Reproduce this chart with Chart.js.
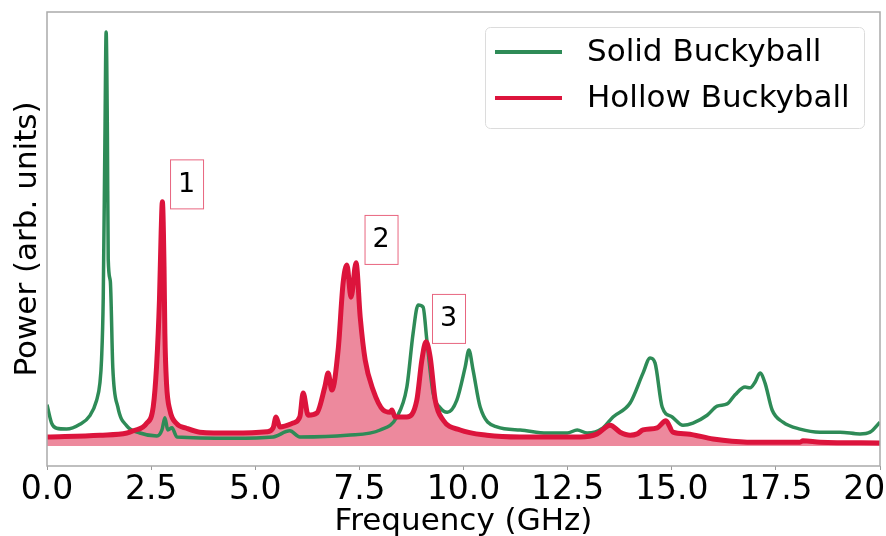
<!DOCTYPE html>
<html>
<head>
<meta charset="utf-8">
<script src="https://cdn.jsdelivr.net/npm/chart.js@4.4.1/dist/chart.umd.min.js"></script>
<style>
  html, body { margin: 0; padding: 0; background: #fff; }
</style>
</head>
<body>
<canvas id="powerSpectrum" width="886" height="536"></canvas>
<script>
// Solid buckyball spectrum (green)
const solidFreq = [
  0, 0.11, 0.23, 0.47, 0.79, 1.03, 1.19, 1.27, 1.31, 1.35, 1.39, 1.42, 1.45, 1.47,
  1.52, 1.58, 1.70, 1.92, 2.23, 2.64, 2.76, 2.83, 2.90, 3.00, 3.12, 4.47, 5.43,
  5.83, 6.07, 7.20, 8.00, 8.40, 8.64, 8.79, 8.91, 9.03, 9.12, 9.27, 9.44, 9.61,
  9.84, 10.04, 10.13, 10.23, 10.40, 10.80, 11.36, 12.00, 12.49, 12.73, 12.97,
  13.35, 13.59, 14.00, 14.31, 14.48, 14.60, 14.77, 15.01, 15.27, 15.51, 15.85,
  16.09, 16.33, 16.52, 16.76, 16.88, 17.00, 17.12, 17.24, 17.41, 17.67, 18.08,
  18.56, 19.04, 19.52, 19.76, 20.00,
];
const solidPower = [
  9.5, 5.3, 4.1, 3.9, 5.0, 7.0, 10.5, 14.5, 20, 34, 70, 95.4, 72, 43,
  38, 18, 9.0, 4.6, 3.0, 2.3, 3.7, 6.5, 3.7, 4.2, 2.1, 1.8, 2.1,
  3.5, 2.1, 2.5, 3.7, 6.7, 13.6, 26.0, 32.5, 32.0, 24.4, 12.2, 8.8, 7.8,
  10.6, 18.2, 22.1, 17.5, 9.0, 4.4, 3.7, 3.0, 3.0, 3.7, 3.0,
  4.2, 6.7, 9.9, 16.8, 20.3, 19.1, 9.0, 6.7, 4.8, 5.3, 7.1,
  9.2, 9.7, 11.8, 13.6, 13.4, 14.7, 16.8, 14.5, 8.3, 5.5, 3.9,
  3.2, 3.2, 2.8, 3.2, 5.5,
];

// Hollow buckyball spectrum (crimson, filled)
const hollowFreq = [
  0, 1.27, 1.92, 2.07, 2.39, 2.55, 2.63, 2.70, 2.74, 2.77, 2.81, 2.83, 2.87, 2.95,
  3.11, 3.35, 3.67, 4.47, 5.28, 5.43, 5.50, 5.59, 5.91, 6.07, 6.15, 6.27, 6.48,
  6.67, 6.75, 6.84, 6.99, 7.11, 7.20, 7.30, 7.42, 7.52, 7.64, 7.83, 8.07, 8.24,
  8.28, 8.36, 8.64, 8.88, 9.00, 9.10, 9.20, 9.32, 9.51, 9.92, 10.56, 11.36, 12.00,
  12.80, 13.21, 13.52, 13.76, 14.00, 14.17, 14.31, 14.65, 14.86, 15.03, 15.37,
  15.99, 16.81, 18.08, 18.15, 18.56, 20.00,
];
const hollowPower = [
  2.1, 2.5, 3.0, 3.5, 5.2, 9.0, 18.3, 33.6, 49, 56.3, 41.3, 26, 14.4, 8.3,
  5.2, 4.1, 3.2, 3.0, 3.3, 4.2, 6.7, 4.4, 5.3, 6.7, 12.2, 7.1, 7.6,
  13.6, 16.8, 12.9, 22.1, 37.6, 41.7, 34.3, 42.2, 29.7, 19.8, 12.9, 8.3, 7.8,
  8.3, 6.7, 6.7, 10.6, 19.8, 24.0, 20.5, 10.6, 6.0, 3.7, 2.5, 2.1, 2.1,
  2.1, 2.8, 4.8, 3.2, 2.5, 2.8, 3.7, 4.2, 5.8, 3.2, 2.8,
  1.6, 0.9, 0.9, 1.2, 0.9, 0.7,
];

// numbered peak labels (anchored in data space)
const peakLabels = ["1", "2", "3"];
const peakLabelFreq = [3.35, 8.02, 9.64];
const peakLabelPower = [60.4, 47.6, 29.4];

const green = "#2e8b57";
const crimson = "#dc143c";
const fontFamily = "'DejaVu Sans', sans-serif";

Chart.defaults.font.family = fontFamily;
Chart.defaults.color = "#000";

function toPoints(xs, ys) {
  return xs.map((x, i) => ({ x: x, y: ys[i] }));
}

// grey box round the plot area
const frame = {
  id: "frame",
  afterDraw(chart) {
    const { ctx, chartArea: a } = chart;
    ctx.save();
    ctx.strokeStyle = "#aaaaaa";
    ctx.lineWidth = 1.5;
    ctx.strokeRect(a.left, a.top, a.right - a.left, a.bottom - a.top);
    ctx.restore();
  },
};

// boxed numbers next to the peaks
const peakBoxes = {
  id: "peakBoxes",
  afterDatasetsDraw(chart) {
    const { ctx, scales } = chart;
    ctx.save();
    ctx.font = "27px " + fontFamily;
    ctx.textAlign = "center";
    ctx.textBaseline = "middle";
    peakLabels.forEach((label, i) => {
      const cx = scales.x.getPixelForValue(peakLabelFreq[i]);
      const cy = scales.y.getPixelForValue(peakLabelPower[i]);
      const w = 33, h = 49;
      ctx.fillStyle = "#fff";
      ctx.fillRect(cx - w / 2, cy - h / 2, w, h);
      ctx.strokeStyle = "rgba(220,20,60,0.65)";
      ctx.lineWidth = 1;
      ctx.strokeRect(cx - w / 2 + 0.5, cy - h / 2 + 0.5, w, h);
      ctx.fillStyle = "#000";
      ctx.fillText(label, cx, cy + 1);
    });
    ctx.restore();
  },
};

// matplotlib style legend inside the upper right corner
const insideLegend = {
  id: "insideLegend",
  afterDraw(chart) {
    const { ctx, chartArea: a } = chart;
    const items = [chart.data.datasets[1], chart.data.datasets[0]];
    const boxW = 379, boxH = 101;
    const x0 = a.right - 16 - boxW, y0 = a.top + 15;
    ctx.save();
    ctx.fillStyle = "rgba(255,255,255,0.8)";
    ctx.strokeStyle = "#dcdcdc";
    ctx.lineWidth = 1;
    ctx.beginPath();
    ctx.roundRect(x0 + 0.5, y0 + 0.5, boxW, boxH, 5);
    ctx.fill();
    ctx.stroke();
    ctx.font = "31px " + fontFamily;
    ctx.textBaseline = "middle";
    items.forEach((ds, i) => {
      const y = y0 + 25 + i * 46;
      ctx.strokeStyle = ds.borderColor;
      ctx.lineWidth = 4;
      ctx.beginPath();
      ctx.moveTo(x0 + 10, y);
      ctx.lineTo(x0 + 77, y);
      ctx.stroke();
      ctx.fillStyle = "#000";
      ctx.fillText(ds.label, x0 + 102, y + 1);
    });
    ctx.restore();
  },
};

new Chart(document.getElementById("powerSpectrum"), {
  type: "line",
  data: {
    datasets: [
      {
        label: "Hollow Buckyball",
        data: toPoints(hollowFreq, hollowPower),
        borderColor: crimson,
        backgroundColor: "rgba(220,20,60,0.5)",
        borderWidth: 5,
        fill: "origin",
        pointRadius: 0,
        cubicInterpolationMode: "monotone",
      },
      {
        label: "Solid Buckyball",
        data: toPoints(solidFreq, solidPower),
        borderColor: green,
        backgroundColor: green,
        borderWidth: 3.5,
        fill: false,
        pointRadius: 0,
        cubicInterpolationMode: "monotone",
      },
    ],
  },
  options: {
    responsive: false,
    animation: false,
    layout: { padding: { top: 12, right: 6, left: 0, bottom: 0 } },
    plugins: {
      legend: { display: false },
      tooltip: { enabled: false },
      filler: { drawTime: "beforeDatasetsDraw" },
    },
    scales: {
      x: {
        type: "linear",
        min: 0,
        max: 20,
        offset: false,
        ticks: {
          stepSize: 2.5,
          autoSkip: false,
          maxRotation: 0,
          padding: 1,
          font: { size: 33 },
          color: "#000",
          callback: (v) => v.toFixed(1),
        },
        grid: { drawOnChartArea: false, tickLength: 4, color: "#999" },
        border: { display: false },
        title: {
          display: true,
          text: "Frequency (GHz)",
          font: { size: 31, lineHeight: 1 },
          color: "#000",
          padding: { top: 0, bottom: -1 },
        },
        afterFit(scale) {
          scale.height = 70;
          scale.paddingLeft = 0;
          scale.paddingRight = 0;
        },
      },
      y: {
        min: -4.6,
        max: 100,
        ticks: { display: false },
        grid: { display: false },
        border: { display: false },
        title: {
          display: true,
          text: "Power (arb. units)",
          font: { size: 31, lineHeight: 1 },
          color: "#000",
          padding: { top: 12, bottom: 0 },
        },
        afterFit(scale) {
          scale.width = 47;
        },
      },
    },
  },
  plugins: [frame, peakBoxes, insideLegend],
});
</script>
</body>
</html>
